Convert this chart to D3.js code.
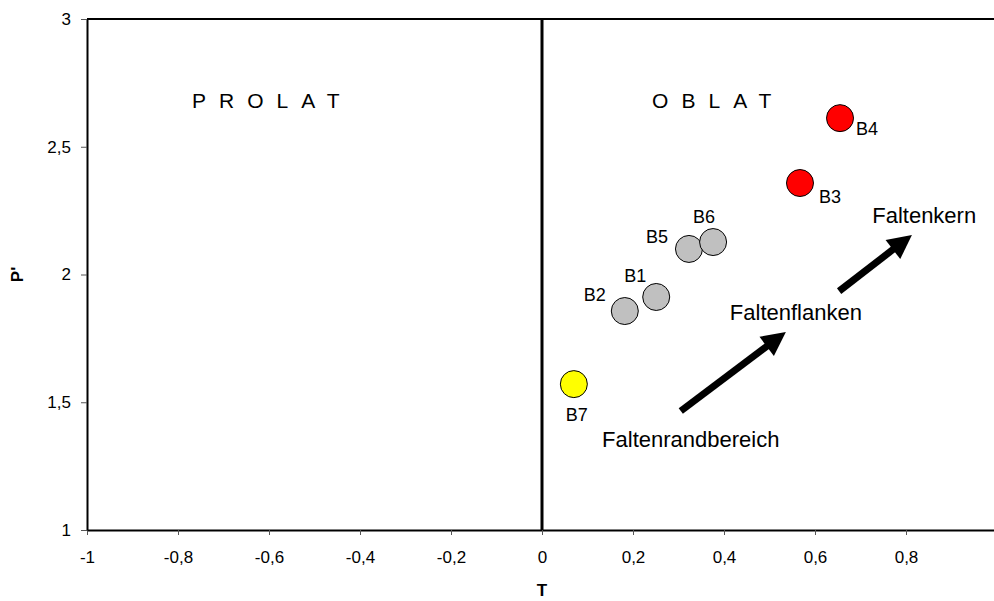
<!DOCTYPE html>
<html>
<head>
<meta charset="utf-8">
<script src="https://cdn.jsdelivr.net/npm/d3@7"></script>
<style>
  html, body { margin: 0; padding: 0; background: #fff; }
  svg { display: block; font-family: "Liberation Sans", Arial, sans-serif; }
</style>
</head>
<body>
<svg id="chart" width="994" height="601"></svg>
<script>
// Samples: shape parameter T against corrected anisotropy degree P'
const samples = ["B1", "B2", "B3", "B4", "B5", "B6", "B7"];
const tValues = [0.251, 0.182, 0.567, 0.655, 0.323, 0.376, 0.070];
const pValues = [1.912, 1.857, 2.358, 2.612, 2.100, 2.127, 1.571];
const zones   = ["flank", "flank", "core", "core", "flank", "flank", "rim"];

const xTicks = [-1, -0.8, -0.6, -0.4, -0.2, 0, 0.2, 0.4, 0.6, 0.8];
const yTicks = [1, 1.5, 2, 2.5, 3];

// Arrows (tail -> tip) and their captions, in data units
const arrowTails = [[0.305, 1.466], [0.653, 1.935]];
const arrowTips  = [[0.536, 1.775], [0.813, 2.155]];
const captions   = ["Faltenrandbereich", "Faltenflanken", "Faltenkern"];
const captionPos = [[0.327, 1.325], [0.558, 1.822], [0.840, 2.202]];
const regionNames = ["PROLAT", "OBLAT"];
const regionPos   = [[-0.769, 2.652], [0.242, 2.652]];

// Styling
const zoneColor = { rim: "#ffff00", flank: "#c0c0c0", core: "#ff0000" };
// label offset (px) and anchor for each sample label
const labelOffset = [[-21, -15, "middle"], [-30, -10, "middle"], [19, 20, "start"],
                     [16, 17, "start"], [-32, -6, "middle"], [-9, -19, "middle"], [3, 37, "middle"]];

const svg = d3.select("#chart");
const x = d3.scaleLinear().domain([-1, 1]).range([87, 997]);
const y = d3.scaleLinear().domain([1, 3]).range([530, 19]);

const de = d3.formatLocale({ decimal: ",", thousands: ".", grouping: [3], currency: ["", " €"], minus: "-" });
const fmt = de.format("~g");

// Axes
const xAxis = svg.append("g").attr("transform", `translate(0,${y(1)})`)
  .call(d3.axisBottom(x).tickValues(xTicks).tickFormat(fmt).tickSize(5).tickSizeOuter(0));
const yAxis = svg.append("g").attr("transform", `translate(${x(-1)},0)`)
  .call(d3.axisLeft(y).tickValues(yTicks).tickFormat(fmt).tickSize(6).tickSizeOuter(0));

[xAxis, yAxis].forEach(g => {
  g.select(".domain").attr("stroke", "#000").attr("stroke-width", 2);
  g.selectAll(".tick line").attr("stroke", "#555").attr("stroke-width", 1);
  g.selectAll(".tick text").attr("font-family", "Liberation Sans, Arial, sans-serif")
    .attr("font-size", 17).attr("fill", "#000");
});
xAxis.selectAll(".tick text").attr("dy", "1.45em");
yAxis.selectAll(".tick text").attr("x", -16);

// Top frame line
svg.append("line")
  .attr("x1", x(-1)).attr("x2", x(1)).attr("y1", y(3)).attr("y2", y(3))
  .attr("stroke", "#000").attr("stroke-width", 2);

// Boundary between prolate and oblate fields
svg.append("line")
  .attr("x1", x(0)).attr("x2", x(0)).attr("y1", y(1)).attr("y2", y(3))
  .attr("stroke", "#000").attr("stroke-width", 3);

// Axis titles
svg.append("text").attr("x", x(0)).attr("y", 596).attr("text-anchor", "middle")
  .attr("font-size", 17).attr("font-weight", "bold").text("T");
svg.append("text").attr("transform", `translate(23,${y(2)}) rotate(-90)`)
  .attr("text-anchor", "middle").attr("font-size", 17).attr("font-weight", "bold").text("P'");

// Field names
svg.selectAll("text.region").data(regionNames).join("text")
  .attr("class", "region")
  .attr("x", (d, i) => x(regionPos[i][0])).attr("y", (d, i) => y(regionPos[i][1]))
  .attr("font-size", 21).attr("letter-spacing", 13).text(d => d);

// Arrows
const headLen = 24, headHalf = 12;
arrowTails.forEach((t, i) => {
  const x0 = x(t[0]), y0 = y(t[1]);
  const x1 = x(arrowTips[i][0]), y1 = y(arrowTips[i][1]);
  const len = Math.hypot(x1 - x0, y1 - y0);
  const ux = (x1 - x0) / len, uy = (y1 - y0) / len;
  const bx = x1 - ux * headLen, by = y1 - uy * headLen;
  svg.append("line").attr("x1", x0).attr("y1", y0).attr("x2", bx + ux * 2).attr("y2", by + uy * 2)
    .attr("stroke", "#000").attr("stroke-width", 7);
  svg.append("path")
    .attr("d", `M${x1},${y1}L${bx - uy * headHalf},${by + ux * headHalf}L${bx + uy * headHalf},${by - ux * headHalf}Z`)
    .attr("fill", "#000");
});

// Captions
svg.selectAll("text.caption").data(captions).join("text")
  .attr("class", "caption")
  .attr("x", (d, i) => x(captionPos[i][0])).attr("y", (d, i) => y(captionPos[i][1]))
  .attr("text-anchor", "middle").attr("font-size", 22).text(d => d);

// Sample points
svg.selectAll("circle.sample").data(samples).join("circle")
  .attr("class", "sample")
  .attr("cx", (d, i) => x(tValues[i])).attr("cy", (d, i) => y(pValues[i]))
  .attr("r", 13.5)
  .attr("fill", (d, i) => zoneColor[zones[i]])
  .attr("stroke", "#000").attr("stroke-width", 1);

svg.selectAll("text.sample").data(samples).join("text")
  .attr("class", "sample")
  .attr("x", (d, i) => x(tValues[i]) + labelOffset[i][0])
  .attr("y", (d, i) => y(pValues[i]) + labelOffset[i][1])
  .attr("text-anchor", (d, i) => labelOffset[i][2])
  .attr("font-size", 18).text(d => d);
</script>
</body>
</html>
